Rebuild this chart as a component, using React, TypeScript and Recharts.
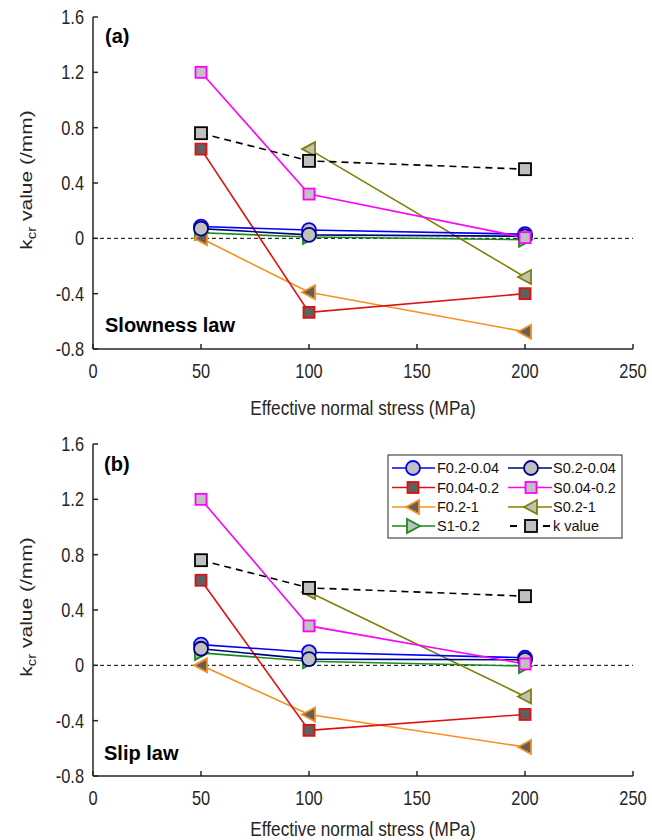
import { LineChart, Line, XAxis, YAxis, ReferenceLine, Label } from 'recharts'

// effective normal stress (MPa)
const stress = [50, 100, 200]
const xTicks = [0, 50, 100, 150, 200, 250]
const yTicks = [-0.8, -0.4, 0, 0.4, 0.8, 1.2, 1.6]

// (a) slowness law, k_cr (/mm)
const slowF02_004 = [0.085, 0.06, 0.03]
const slowS02_004 = [0.07, 0.025, 0.015]
const slowF004_02 = [0.645, -0.535, -0.4]
const slowS004_02 = [1.2, 0.32, 0.005]
const slowF02_1 = [0.0, -0.39, -0.675]
const slowS02_1 = [null, 0.645, -0.28]
const slowS1_02 = [0.04, 0.01, -0.01]
const slowK = [0.76, 0.56, 0.5]

// (b) slip law, k_cr (/mm)
const slipF02_004 = [0.15, 0.095, 0.055]
const slipS02_004 = [0.12, 0.045, 0.04]
const slipF004_02 = [0.615, -0.47, -0.355]
const slipS004_02 = [1.2, 0.285, 0.01]
const slipF02_1 = [0.0, -0.355, -0.59]
const slipS02_1 = [null, 0.53, -0.225]
const slipS1_02 = [0.09, 0.03, -0.005]
const slipK = [0.76, 0.56, 0.5]

const FONT = '"Liberation Sans", Arial, sans-serif'
const SQUEEZE = 0.82 // narrow look for axis text
const AXIS = '#262626'
const LIGHT = '#c0c0c0'
const DARK = '#606060'

type Marker = 'circle' | 'square' | 'left' | 'right'
type Style = { key: string; color: string; fill: string; marker: Marker; dashed?: boolean }

// draw order (back to front)
const styles: Style[] = [
  { key: 'S1-0.2', color: '#1a8c1a', fill: LIGHT, marker: 'right' },
  { key: 'F0.2-1', color: '#f7901e', fill: DARK, marker: 'left' },
  { key: 'F0.04-0.2', color: '#e01010', fill: DARK, marker: 'square' },
  { key: 'S0.2-1', color: '#808000', fill: LIGHT, marker: 'left' },
  { key: 'F0.2-0.04', color: '#0000ff', fill: LIGHT, marker: 'circle' },
  { key: 'S0.2-0.04', color: '#000080', fill: LIGHT, marker: 'circle' },
  { key: 'S0.04-0.2', color: '#ff00ff', fill: LIGHT, marker: 'square' },
  { key: 'k value', color: '#000000', fill: LIGHT, marker: 'square', dashed: true },
]

const legendOrder = [
  'F0.2-0.04', 'S0.2-0.04',
  'F0.04-0.2', 'S0.04-0.2',
  'F0.2-1', 'S0.2-1',
  'S1-0.2', 'k value',
]

function MarkerShape({ cx, cy, s }: { cx: number; cy: number; s: Style }) {
  const common = { stroke: s.color, fill: s.fill, strokeWidth: 1.8 }
  if (s.marker === 'circle') return <circle cx={cx} cy={cy} r={7} {...common} />
  if (s.marker === 'square') {
    const h = s.dashed ? 6 : 5.5
    return <rect x={cx - h} y={cy - h} width={2 * h} height={2 * h} {...common} />
  }
  const d = s.marker === 'left' ? 1 : -1
  const pts = `${cx - 7 * d},${cy} ${cx + 6 * d},${cy - 7} ${cx + 6 * d},${cy + 7}`
  return <polygon points={pts} {...common} />
}

const makeDot = (s: Style) => (props: any) => {
  const { cx, cy, index, value } = props
  if (cx == null || cy == null || value == null) return <g key={index} />
  return <MarkerShape key={index} cx={cx} cy={cy} s={s} />
}

function XTick({ x, y, payload }: any) {
  return (
    <g transform={`translate(${x},${y}) scale(${SQUEEZE},1)`}>
      <text x={0} y={0} dy={14.2} textAnchor="middle" fontFamily={FONT} fontSize={20} fill={AXIS}>
        {payload.value}
      </text>
    </g>
  )
}

function YTick({ x, y, payload }: any) {
  const v = payload.value
  return (
    <g transform={`translate(${x},${y}) scale(${SQUEEZE},1)`}>
      <text x={0} y={0} dy={7} textAnchor="end" fontFamily={FONT} fontSize={20} fill={AXIS}>
        {v === 0 ? '0' : String(v)}
      </text>
    </g>
  )
}

function XTitle({ viewBox, baseline }: any) {
  const cx = viewBox.x + viewBox.width / 2
  const y = viewBox.y + baseline
  return (
    <g transform={`translate(${cx},${y}) scale(${SQUEEZE},1)`}>
      <text x={0} y={0} textAnchor="middle" fontFamily={FONT} fontSize={21} fill={AXIS}>
        Effective normal stress (MPa)
      </text>
    </g>
  )
}

function YTitle({ viewBox }: any) {
  const bx = 32
  const cy = viewBox.y + viewBox.height / 2 - 3
  return (
    <g transform={`translate(${bx},${cy}) rotate(-90) scale(1,${SQUEEZE})`}>
      <text x={0} y={0} textAnchor="middle" fontFamily={FONT} fontSize={21} fill={AXIS}>
        k
        <tspan fontSize={15} dy={5}>cr</tspan>
        <tspan dy={-5}> value (/mm)</tspan>
      </text>
    </g>
  )
}

type PanelData = Record<string, (number | null)[]>

function Panel({ top, marginTop, marginBottom, series, titleBaseline }: {
  top: number
  marginTop: number
  marginBottom: number
  series: PanelData
  titleBaseline: number
}) {
  const rows = stress.map((x, i) => {
    const row: Record<string, number | null> = { x }
    for (const s of styles) row[s.key] = series[s.key][i]
    return row
  })
  return (
    <div style={{ position: 'absolute', left: 0, top, width: 652, height: 420 }}>
      <LineChart
        width={652}
        height={420}
        data={rows}
        margin={{ top: marginTop, right: 19, bottom: marginBottom, left: 0 }}
      >
        <XAxis
          xAxisId="b"
          dataKey="x"
          type="number"
          domain={[0, 250]}
          ticks={xTicks}
          height={30}
          tickSize={-5}
          tickMargin={20}
          tick={<XTick />}
          stroke={AXIS}
          strokeWidth={1.5}
        >
          <Label content={<XTitle baseline={titleBaseline} />} />
        </XAxis>
        <XAxis
          xAxisId="t"
          orientation="top"
          dataKey="x"
          type="number"
          domain={[0, 250]}
          ticks={xTicks}
          height={0}
          tickSize={-5}
          tick={false}
          stroke={AXIS}
          strokeWidth={1.5}
        />
        <YAxis
          yAxisId="l"
          type="number"
          domain={[-0.8, 1.6]}
          ticks={yTicks}
          width={93}
          tickSize={-5}
          tickMargin={14}
          tick={<YTick />}
          stroke={AXIS}
          strokeWidth={1.5}
          allowDataOverflow
        >
          <Label content={<YTitle />} />
        </YAxis>
        <YAxis
          yAxisId="r"
          orientation="right"
          type="number"
          domain={[-0.8, 1.6]}
          ticks={yTicks}
          width={0}
          tickSize={-5}
          tick={false}
          stroke={AXIS}
          strokeWidth={1.5}
        />
        <ReferenceLine
          xAxisId="b"
          yAxisId="l"
          y={0}
          stroke="#000"
          strokeWidth={1}
          strokeDasharray="4 3"
        />
        {styles.map((s) => (
          <Line
            key={s.key}
            xAxisId="b"
            yAxisId="l"
            dataKey={s.key}
            stroke={s.color}
            strokeWidth={1.6}
            strokeDasharray={s.dashed ? '7 5' : undefined}
            dot={makeDot(s)}
            activeDot={false}
            isAnimationActive={false}
            connectNulls={false}
          />
        ))}
      </LineChart>
    </div>
  )
}

function LegendBox() {
  const x0 = 388
  const y0 = 455
  const rowY = [468, 487.5, 507, 526]
  const cols = [
    { l1: 392, l2: 435, m: 413, t: 437 },
    { l1: 508, l2: 552, m: 531, t: 553 },
  ]
  return (
    <g>
      <rect x={x0} y={y0} width={234} height={83} fill="#fff" stroke={AXIS} strokeWidth={1} />
      {legendOrder.map((name, i) => {
        const s = styles.find((st) => st.key === name)!
        const c = cols[i % 2]
        const y = rowY[Math.floor(i / 2)]
        return (
          <g key={name}>
            {s.dashed ? (
              <>
                <line x1={c.l1 + 2} x2={c.l1 + 9} y1={y} y2={y} stroke={s.color} strokeWidth={2} />
                <line x1={c.l2 - 9} x2={c.l2 - 2} y1={y} y2={y} stroke={s.color} strokeWidth={2} />
              </>
            ) : (
              <line x1={c.l1} x2={c.l2} y1={y} y2={y} stroke={s.color} strokeWidth={1.6} />
            )}
            <MarkerShape cx={c.m} cy={y} s={s} />
            <text x={c.t} y={y + 5} fontFamily={FONT} fontSize={14.5} fill="#111">
              {name}
            </text>
          </g>
        )
      })}
    </g>
  )
}

export default function App() {
  const slow: PanelData = {
    'F0.2-0.04': slowF02_004,
    'S0.2-0.04': slowS02_004,
    'F0.04-0.2': slowF004_02,
    'S0.04-0.2': slowS004_02,
    'F0.2-1': slowF02_1,
    'S0.2-1': slowS02_1,
    'S1-0.2': slowS1_02,
    'k value': slowK,
  }
  const slip: PanelData = {
    'F0.2-0.04': slipF02_004,
    'S0.2-0.04': slipS02_004,
    'F0.04-0.2': slipF004_02,
    'S0.04-0.2': slipS004_02,
    'F0.2-1': slipF02_1,
    'S0.2-1': slipS02_1,
    'S1-0.2': slipS1_02,
    'k value': slipK,
  }
  return (
    <div style={{ position: 'absolute', left: 0, top: 0, width: 652, height: 840, background: '#fff', overflow: 'hidden' }}>
      <Panel top={0} marginTop={17} marginBottom={41} series={slow} titleBaseline={66} />
      <Panel top={420} marginTop={24} marginBottom={34} series={slip} titleBaseline={60} />
      <svg
        width={652}
        height={840}
        style={{ position: 'absolute', left: 0, top: 0, pointerEvents: 'none' }}
      >
        <g fontFamily={FONT} fontWeight="bold" fontSize={20} fill="#000">
          <text x={105} y={43}>(a)</text>
          <text x={105} y={332}>Slowness law</text>
          <text x={104} y={471}>(b)</text>
          <text x={104} y={760}>Slip law</text>
        </g>
        <LegendBox />
      </svg>
    </div>
  )
}
